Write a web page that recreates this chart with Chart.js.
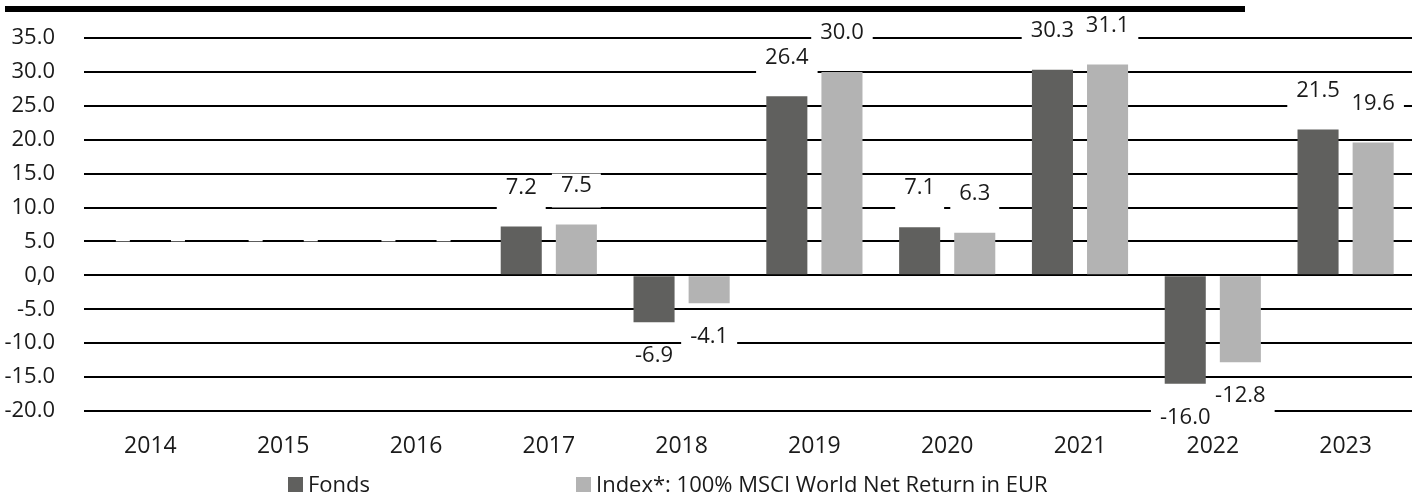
<!DOCTYPE html>
<html>
<head>
<meta charset="utf-8">
<script src="https://cdn.jsdelivr.net/npm/chart.js@4/dist/chart.umd.min.js"></script>
<style>
  body { margin: 0; background: #fff; }
</style>
</head>
<body>
<canvas id="barChart" width="1423" height="495"></canvas>
<script>
var years = ['2014', '2015', '2016', '2017', '2018', '2019', '2020', '2021', '2022', '2023'];
var fonds = [null, null, null, 7.2, -6.9, 26.4, 7.1, 30.3, -16.0, 21.5];
var index = [null, null, null, 7.5, -4.1, 30.0, 6.3, 31.1, -12.8, 19.6];
var seriesNames = ['Fonds', 'Index*: 100% MSCI World Net Return in EUR'];

var FONT = '"Open Sans", "Noto Sans", sans-serif';
var darkGrey = 'rgb(96, 96, 94)';
var lightGrey = 'rgb(179, 179, 179)';

// white-boxed value labels above / below each bar
var valueLabels = {
    id: 'valueLabels',
    afterDatasetsDraw: function (chart) {
        var ctx = chart.ctx;
        var y = chart.scales.y;
        var items = [];
        ctx.save();
        ctx.font = '22px ' + FONT;
        ctx.textAlign = 'center';
        ctx.textBaseline = 'middle';
        chart.data.datasets.forEach(function (ds, di) {
            chart.getDatasetMeta(di).data.forEach(function (bar, i) {
                var v = ds.data[i];
                var txt = v === null ? '' : v.toFixed(1);
                var cy, below;
                if (v === null || v >= 0) {
                    cy = y.getPixelForValue(v === null ? 0 : v) - 39;
                    below = v === null ? 5 : 22;
                } else {
                    cy = y.getPixelForValue(v) + 34;
                    below = 18;
                }
                var w = txt ? ctx.measureText(txt).width + 18 : 14;
                items.push({ x: bar.x, cy: cy, w: w, below: below, txt: txt });
            });
        });
        ctx.fillStyle = '#fff';
        items.forEach(function (it) {
            ctx.fillRect(it.x - it.w / 2, it.cy - 12, it.w, 12 + it.below);
        });
        ctx.fillStyle = '#1a1a1a';
        items.forEach(function (it) {
            ctx.fillText(it.txt, it.x, it.cy);
        });
        ctx.restore();
    }
};

// thick rule at the top and the legend line at the bottom
var frame = {
    id: 'frame',
    afterDraw: function (chart) {
        var ctx = chart.ctx;
        ctx.save();
        ctx.fillStyle = '#000';
        ctx.fillRect(5, 6, 1240, 6);
        ctx.font = '22px ' + FONT;
        ctx.textBaseline = 'alphabetic';
        ctx.textAlign = 'left';
        var items = [[288, darkGrey], [576, lightGrey]];
        items.forEach(function (it, k) {
            ctx.fillStyle = it[1];
            ctx.fillRect(it[0], 477, 15, 15);
            ctx.fillStyle = '#1a1a1a';
            ctx.fillText(seriesNames[k], it[0] + 20, 492);
        });
        ctx.restore();
    }
};

var data = {
    labels: years,
    datasets: [{
        label: seriesNames[0],
        backgroundColor: darkGrey,
        data: fonds,
        barPercentage: 0.745,
        categoryPercentage: 0.83
    }, {
        label: seriesNames[1],
        backgroundColor: lightGrey,
        data: index,
        barPercentage: 0.745,
        categoryPercentage: 0.83
    }]
};

var config = {
    type: 'bar',
    data: data,
    plugins: [valueLabels, frame],
    options: {
        responsive: false,
        animation: false,
        layout: { padding: { top: 38, right: 11, left: 0, bottom: 0 } },
        plugins: {
            legend: { display: false },
            tooltip: { enabled: false }
        },
        scales: {
            x: {
                grid: { display: false, drawTicks: false },
                border: { display: false },
                ticks: { color: '#1a1a1a', font: { family: FONT, size: 23 }, padding: 22 },
                afterFit: function (s) { s.height = 84; s.paddingLeft = 0; s.paddingRight = 0; }
            },
            y: {
                min: -20,
                max: 35,
                grid: { color: '#000', lineWidth: 2, drawTicks: false },
                border: { display: false },
                ticks: {
                    stepSize: 5,
                    color: '#1a1a1a',
                    font: { family: FONT, size: 22 },
                    padding: 29,
                    callback: function (v) { return v === 0 ? '0,0' : v.toFixed(1); }
                },
                afterFit: function (s) { s.width = 84; s.paddingTop = 0; s.paddingBottom = 0; }
            }
        }
    }
};

var barChart = new Chart(document.getElementById('barChart'), config);
</script>
</body>
</html>
